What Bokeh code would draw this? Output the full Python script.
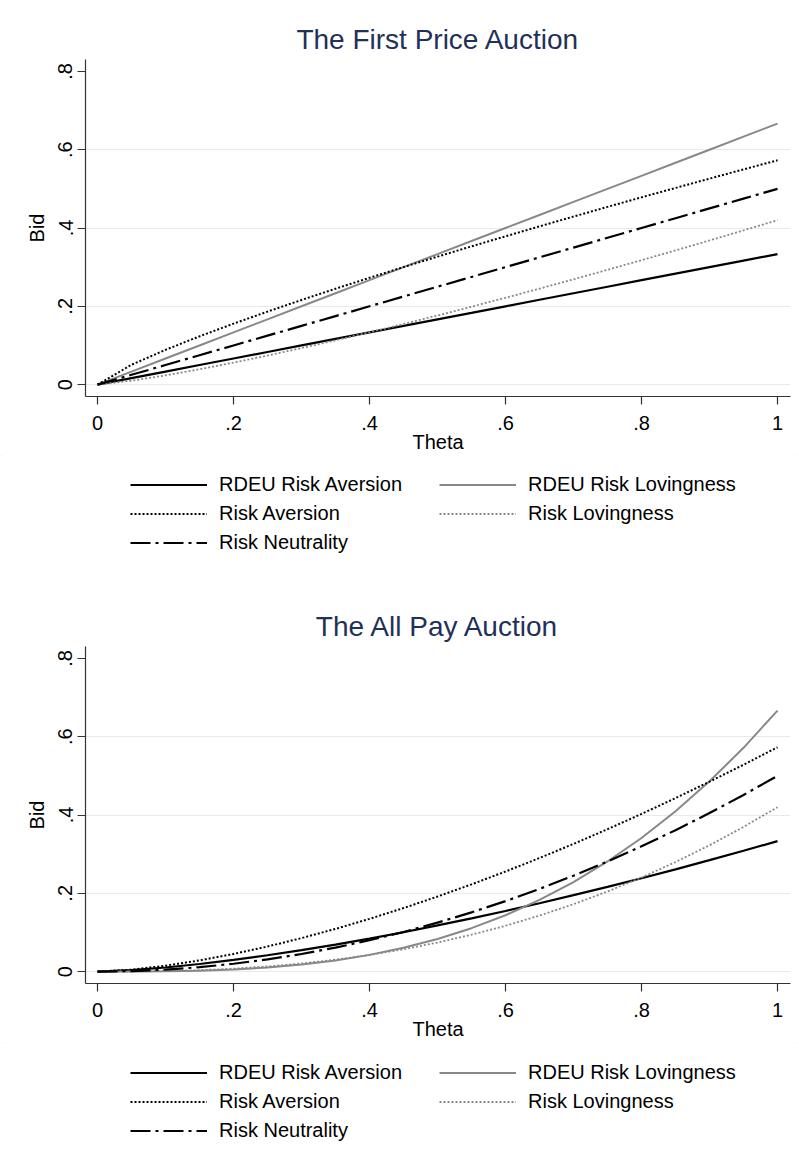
from bokeh.plotting import figure
from bokeh.models import (Range1d, FixedTicker, CustomJSTickFormatter, Legend,
                          LegendItem, ColumnDataSource)
from bokeh.layouts import column
from bokeh.embed import file_html
from bokeh.resources import INLINE

# ---------------- data ----------------
theta = [0.0, 0.05, 0.10, 0.15, 0.20, 0.25, 0.30, 0.35, 0.40, 0.45, 0.50,
         0.55, 0.60, 0.65, 0.70, 0.75, 0.80, 0.85, 0.90, 0.95, 1.0]

series_names = ["RDEU Risk Aversion", "RDEU Risk Lovingness", "Risk Aversion",
                "Risk Lovingness", "Risk Neutrality"]

# The First Price Auction
fp_rdeu_ra = [0.0, 0.0167, 0.0333, 0.05, 0.0667, 0.0833, 0.1, 0.1167, 0.1333, 0.15, 0.1667,
              0.1833, 0.2, 0.2167, 0.2333, 0.25, 0.2667, 0.2833, 0.3, 0.3167, 0.3333]
fp_rdeu_rl = [0.0, 0.0333, 0.0667, 0.1, 0.1333, 0.1667, 0.2, 0.2333, 0.2667, 0.3, 0.3333,
              0.3667, 0.4, 0.4333, 0.4667, 0.5, 0.5333, 0.5667, 0.6, 0.6333, 0.6667]
fp_ra = [0.0, 0.0506, 0.0888, 0.1233, 0.1556, 0.1864, 0.2161, 0.2448, 0.2728, 0.3001, 0.3268,
         0.3531, 0.3788, 0.4042, 0.4292, 0.4539, 0.4783, 0.5023, 0.5261, 0.5497, 0.573]
fp_rl = [0.0, 0.0099, 0.0236, 0.0392, 0.0562, 0.0742, 0.0933, 0.1131, 0.1336, 0.1548, 0.1766,
         0.1990, 0.2218, 0.2451, 0.2689, 0.2932, 0.3178, 0.3428, 0.3682, 0.3939, 0.42]
fp_rn = [0.0, 0.025, 0.05, 0.075, 0.1, 0.125, 0.15, 0.175, 0.2, 0.225, 0.25,
         0.275, 0.3, 0.325, 0.35, 0.375, 0.4, 0.425, 0.45, 0.475, 0.5]

# The All Pay Auction
ap_rdeu_ra = [0.0, 0.0037, 0.0105, 0.0194, 0.0298, 0.0417, 0.0548, 0.0690, 0.0843, 0.1006, 0.1179,
              0.1360, 0.1549, 0.1747, 0.1952, 0.2165, 0.2385, 0.2612, 0.2846, 0.3086, 0.3333]
ap_rdeu_rl = [0.0, 0.0001, 0.0007, 0.0023, 0.0053, 0.0104, 0.018, 0.0286, 0.0427, 0.0608, 0.0833,
              0.1109, 0.144, 0.1831, 0.2287, 0.2813, 0.3413, 0.4094, 0.486, 0.5716, 0.6667]
ap_ra = [0.0, 0.0050, 0.0151, 0.0286, 0.0451, 0.0641, 0.0855, 0.1091, 0.1347, 0.1623, 0.1917,
         0.2228, 0.2556, 0.2901, 0.3261, 0.3637, 0.4028, 0.4432, 0.4851, 0.5284, 0.573]
ap_rl = [0.0, 0.0002, 0.0013, 0.0037, 0.0075, 0.0131, 0.0207, 0.0304, 0.0425, 0.0571, 0.0742,
         0.0942, 0.1171, 0.1431, 0.1722, 0.2046, 0.2404, 0.2798, 0.3227, 0.3694, 0.42]
ap_rn = [0.0, 0.00125, 0.005, 0.01125, 0.02, 0.03125, 0.045, 0.06125, 0.08, 0.10125, 0.125,
         0.15125, 0.18, 0.21125, 0.245, 0.28125, 0.32, 0.36125, 0.405, 0.45125, 0.5]

x_ticks = [0, 0.2, 0.4, 0.6, 0.8, 1.0]
y_ticks = [0, 0.2, 0.4, 0.6, 0.8]
grid_ticks = [0, 0.2, 0.4, 0.6]

legend_col1 = ["RDEU Risk Aversion", "Risk Aversion", "Risk Neutrality"]
legend_col2 = ["RDEU Risk Lovingness", "Risk Lovingness"]

# ---------------- styling ----------------
FONT = "Liberation Sans"
TITLE_COLOR = "#1f3059"
AXIS_COLOR = "#333333"
GRID_COLOR = "#e3ecec"
GREY = "#888888"
W = 799

styles = {
    "RDEU Risk Aversion": dict(line_color="black", line_width=2.2),
    "RDEU Risk Lovingness": dict(line_color=GREY, line_width=2.0),
    "Risk Aversion": dict(line_color="black", line_width=2.0, line_dash="2 2"),
    "Risk Lovingness": dict(line_color=GREY, line_width=1.8, line_dash="2 2"),
    "Risk Neutrality": dict(line_color="black", line_width=2.2, line_dash="20 5 3 5"),
}

fmt_code = """
if (Math.abs(tick) < 1e-9) return "0";
if (Math.abs(tick - 1) < 1e-9) return "1";
return tick.toFixed(1).replace(/^0/, "");
"""


def make_plot(title, ys, border_top):
    p = figure(width=W, height=border_top + 340 + 56, output_backend="svg",
               toolbar_location=None,
               x_range=Range1d(-0.01765, 1.0191), y_range=Range1d(-0.0304, 0.8304),
               min_border_left=85, min_border_right=9,
               min_border_top=border_top, min_border_bottom=56,
               background_fill_color="white", border_fill_color="white",
               outline_line_color=None)

    p.title.text = title
    p.title.align = "center"
    p.title.text_font = FONT
    p.title.text_font_size = "28px"
    p.title.text_font_style = "normal"
    p.title.text_color = TITLE_COLOR

    for ax in (p.xaxis[0], p.yaxis[0]):
        ax.axis_line_color = AXIS_COLOR
        ax.axis_line_width = 1.2
        ax.major_tick_line_color = AXIS_COLOR
        ax.major_tick_line_width = 1.2
        ax.major_tick_in = 0
        ax.major_tick_out = 8
        ax.minor_tick_line_color = None
        ax.major_label_text_font = FONT
        ax.major_label_text_font_size = "20px"
        ax.major_label_text_color = "black"
        ax.axis_label_text_font = FONT
        ax.axis_label_text_font_size = "20px"
        ax.axis_label_text_font_style = "normal"
        ax.axis_label_text_color = "black"
        ax.formatter = CustomJSTickFormatter(code=fmt_code)

    p.xaxis[0].ticker = FixedTicker(ticks=x_ticks)
    p.yaxis[0].ticker = FixedTicker(ticks=y_ticks)
    p.xaxis[0].axis_label = "Theta"
    p.yaxis[0].axis_label = "Bid"
    p.xaxis[0].major_label_standoff = 11
    p.xaxis[0].axis_label_standoff = -2
    p.yaxis[0].major_label_standoff = 5
    p.yaxis[0].axis_label_standoff = 8
    p.yaxis[0].major_label_orientation = "vertical"

    p.xgrid.visible = False
    p.ygrid[0].ticker = FixedTicker(ticks=grid_ticks)
    p.ygrid[0].grid_line_color = GRID_COLOR
    p.ygrid[0].grid_line_width = 1.2

    for name, y in zip(series_names, ys):
        src = ColumnDataSource(dict(x=theta, y=y))
        p.line("x", "y", source=src, **styles[name])
    return p


def make_legend(height, top_gap):
    # a frame-less strip that only hosts the legend (its frame is aligned with
    # the plot frame above it by the column layout, so x offsets are frame-relative)
    q = figure(width=W, height=height, output_backend="svg", toolbar_location=None,
               x_range=Range1d(0, 1), y_range=Range1d(0, 1),
               x_axis_type=None, y_axis_type=None,
               min_border_left=0, min_border_right=0,
               min_border_top=0, min_border_bottom=0,
               background_fill_color="white", border_fill_color="white",
               outline_line_color=None)
    q.xgrid.visible = False
    q.ygrid.visible = False
    rs = {}
    for name in series_names:
        # legend-sample renderers, kept outside the visible range
        src = ColumnDataSource(dict(x=[5.0, 6.0], y=[5.0, 6.0]))
        rs[name] = q.line("x", "y", source=src, **styles[name])

    common = dict(orientation="vertical", margin=0, padding=0, spacing=0,
                  glyph_width=77, glyph_height=29, label_height=29,
                  label_standoff=12, label_text_font=FONT,
                  label_text_font_size="20px", label_text_color="black",
                  border_line_color=None, background_fill_alpha=0)
    row_h = 29
    leg1 = Legend(items=[LegendItem(label=n, renderers=[rs[n]]) for n in legend_col1],
                  location=(45, height - top_gap - row_h * len(legend_col1)), **common)
    leg2 = Legend(items=[LegendItem(label=n, renderers=[rs[n]]) for n in legend_col2],
                  location=(354, height - top_gap - row_h * len(legend_col2)), **common)
    q.add_layout(leg1, "center")
    q.add_layout(leg2, "center")
    return q


panel_style = {"outline": "1px solid #dfe7ea", "outline-offset": "-2px"}

top_plot = make_plot("The First Price Auction",
                     [fp_rdeu_ra, fp_rdeu_rl, fp_ra, fp_rl, fp_rn], border_top=59)
top_leg = make_legend(133, 15)
bottom_plot = make_plot("The All Pay Auction",
                        [ap_rdeu_ra, ap_rdeu_rl, ap_ra, ap_rl, ap_rn], border_top=58)
bottom_leg = make_legend(130, 16)

top_panel = column(top_plot, top_leg, spacing=0, styles=panel_style)
bottom_panel = column(bottom_plot, bottom_leg, spacing=0, styles=panel_style)
layout = column(top_panel, bottom_panel, spacing=0)

open("out.html", "w").write(file_html(layout, INLINE))
